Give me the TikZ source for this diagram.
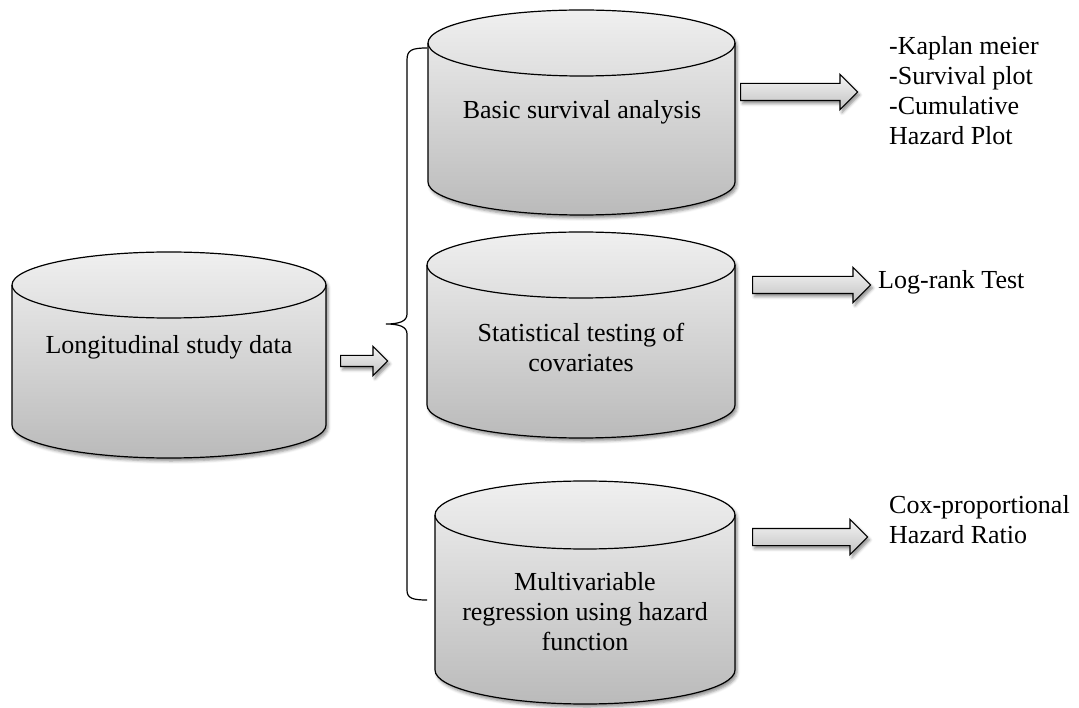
\documentclass[tikz,border=0pt]{standalone}
\usepackage{fontspec}
\setmainfont{Liberation Serif}
\usetikzlibrary{shapes.arrows,shadows.blur}

\begin{document}
\begin{tikzpicture}[
        x=1pt, y=-1pt,
        drum_style/.style={draw=black, line width=1.2pt, top color=black!6, bottom color=black!27,
            blur shadow={shadow xshift=2pt, shadow yshift=-3pt, shadow blur radius=3pt, shadow opacity=45}},
        rim_style/.style={draw=black, line width=1.2pt},
        label_style/.style={font=\fontsize{26}{30}\selectfont, align=center, inner sep=0pt},
        out_style/.style={font=\fontsize{26}{30}\selectfont, align=left, anchor=west, inner sep=0pt},
        block_arrow/.style={single arrow, draw=black, line width=1.2pt, top color=black!4, bottom color=black!24,
            single arrow head extend=9pt, inner xsep=0pt, inner ysep=8pt, minimum width=0pt, anchor=tail,
            blur shadow={shadow xshift=2pt, shadow yshift=-3pt, shadow blur radius=3pt, shadow opacity=45}},
        brace_style/.style={draw=black, line width=1.2pt}
    ]
        \useasboundingbox (0,0) rectangle (1079,708);

        % Cylinders
        \path[drum_style] (12,285) -- (12,425) arc[start angle=180, end angle=360, x radius=157pt, y radius=33pt]
            -- (326,285) arc[start angle=0, end angle=180, x radius=157pt, y radius=33pt] -- cycle;
        \draw[rim_style] (12,285) arc[start angle=180, end angle=360, x radius=157pt, y radius=33pt];

        \path[drum_style] (428,43) -- (428,182) arc[start angle=180, end angle=360, x radius=153.5pt, y radius=33pt]
            -- (735,43) arc[start angle=0, end angle=180, x radius=153.5pt, y radius=33pt] -- cycle;
        \draw[rim_style] (428,43) arc[start angle=180, end angle=360, x radius=153.5pt, y radius=33pt];

        \path[drum_style] (427,265) -- (427,405) arc[start angle=180, end angle=360, x radius=154pt, y radius=33pt]
            -- (735,265) arc[start angle=0, end angle=180, x radius=154pt, y radius=33pt] -- cycle;
        \draw[rim_style] (427,265) arc[start angle=180, end angle=360, x radius=154pt, y radius=33pt];

        \path[drum_style] (435,515) -- (435,670) arc[start angle=180, end angle=360, x radius=150pt, y radius=34pt]
            -- (735,515) arc[start angle=0, end angle=180, x radius=150pt, y radius=34pt] -- cycle;
        \draw[rim_style] (435,515) arc[start angle=180, end angle=360, x radius=150pt, y radius=34pt];

        % Cylinder labels
        \node[label_style] (data) at (169,347) {Longitudinal study data};
        \node[label_style] (basic) at (582,112) {Basic survival analysis};
        \node[label_style] (testing) at (581,347) {Statistical testing of\\covariates};
        \node[label_style] (regression) at (585,612) {Multivariable\\regression using hazard\\function};

        % Brace
        \coordinate (brace_tip) at (386,324);
        \draw[brace_style] (427,48) .. controls (412,48) and (407,50) .. (407,60) -- (407,314)
            .. controls (407,321) and (400,324) .. (brace_tip)
            .. controls (400,324) and (407,327) .. (407,334) -- (407,590)
            .. controls (407,598) and (412,600) .. (427,600);

        % Block arrows
        \node[block_arrow, minimum height=47pt, inner ysep=5pt] (arr_in) at (340,361) {};
        \node[block_arrow, minimum height=117pt] (arr_basic) at (740,92) {};
        \node[block_arrow, minimum height=118pt] (arr_testing) at (752,285) {};
        \node[block_arrow, minimum height=115pt] (arr_regression) at (752,537) {};

        % Outcomes
        \node[out_style] (kaplan) at (889,91) {-Kaplan meier\\-Survival plot\\-Cumulative\\Hazard Plot};
        \node[out_style] (logrank) at (878,282) {Log-rank Test};
        \node[out_style] (cox) at (889,520) {Cox-proportional\\Hazard Ratio};
    \end{tikzpicture}
\end{document}
